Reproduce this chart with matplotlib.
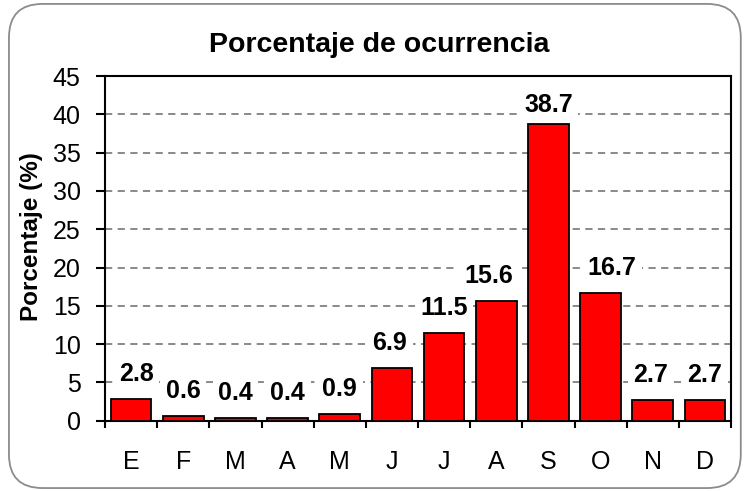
import matplotlib
matplotlib.use('Agg')
from matplotlib import pyplot as plt
from matplotlib.patches import FancyBboxPatch
import numpy as np

plt.rcParams['font.family'] = ['Liberation Sans', 'DejaVu Sans']

########## datos ##########
meses = ['E', 'F', 'M', 'A', 'M', 'J', 'J', 'A', 'S', 'O', 'N', 'D']
porcentaje = [2.8, 0.6, 0.4, 0.4, 0.9, 6.9, 11.5, 15.6, 38.7, 16.7, 2.7, 2.7]
y_ticks = [0, 5, 10, 15, 20, 25, 30, 35, 40, 45]

# desplazamiento de etiquetas (pixeles), como quedaron movidas en el original
desp_x = [5, 0, 0, 0, 0, -2, 0, -8, 0, 11, -2, 0]
desp_y = [18, 18, 18, 18, 18, 18, 18, 18, 12, 18, 18, 18]

fig = plt.figure(figsize=(7.46, 4.91), dpi=100)

# marco redondeado
marco = FancyBboxPatch((0.012, 0.006), 0.981, 0.986, boxstyle='round,pad=0,rounding_size=0.045',
                       transform=fig.transFigure, facecolor='none', edgecolor='#8c8c8c',
                       linewidth=1.3, mutation_aspect=746 / 491, zorder=-1)
fig.patches.append(marco)

ax = fig.add_axes([0.1408, 0.1431, 0.8392, 0.7021])
x = np.arange(len(meses))
ax.bar(x, porcentaje, width=0.78, color='#ff0000', edgecolor='black', linewidth=1.3, zorder=3)

ax.set_xlim(-0.5, len(meses) - 0.5)
ax.set_ylim(0, 45)
ax.set_yticks(y_ticks)
ax.yaxis.grid(True, linestyle=(0, (4, 3)), color='#808080', linewidth=1.3, zorder=0)
ax.set_axisbelow(True)

ax.set_xticks(x)
ax.set_xticklabels(meses, fontsize=18)
ax.set_xticks(np.arange(-0.5, len(meses), 1), minor=True)
ax.tick_params(axis='x', which='major', length=0, pad=21)
ax.tick_params(axis='x', which='minor', length=5, width=1.5, direction='out')
ax.tick_params(axis='y', length=6.5, width=1.5, direction='out', labelsize=18, pad=11)

for s in ax.spines.values():
    s.set_linewidth(1.5)
    s.set_color('black')

ax.set_ylabel('Porcentaje (%)', fontsize=17.5, fontweight='bold')
ax.yaxis.set_label_coords(-0.099, 0.534)
fig.text(0.508, 1 - 52 / 491, 'Porcentaje de ocurrencia', fontsize=20.5, fontweight='bold',
         ha='center', va='baseline')

for xi, v, dx, dy in zip(x, porcentaje, desp_x, desp_y):
    ax.annotate(f'{v:.1f}', (xi, v), xytext=(dx, dy), textcoords='offset pixels',
                ha='center', va='baseline', fontsize=18, fontweight='bold', zorder=5,
                bbox=dict(facecolor='white', edgecolor='none', pad=4), annotation_clip=False)

plt.savefig('out.png', dpi=100)
